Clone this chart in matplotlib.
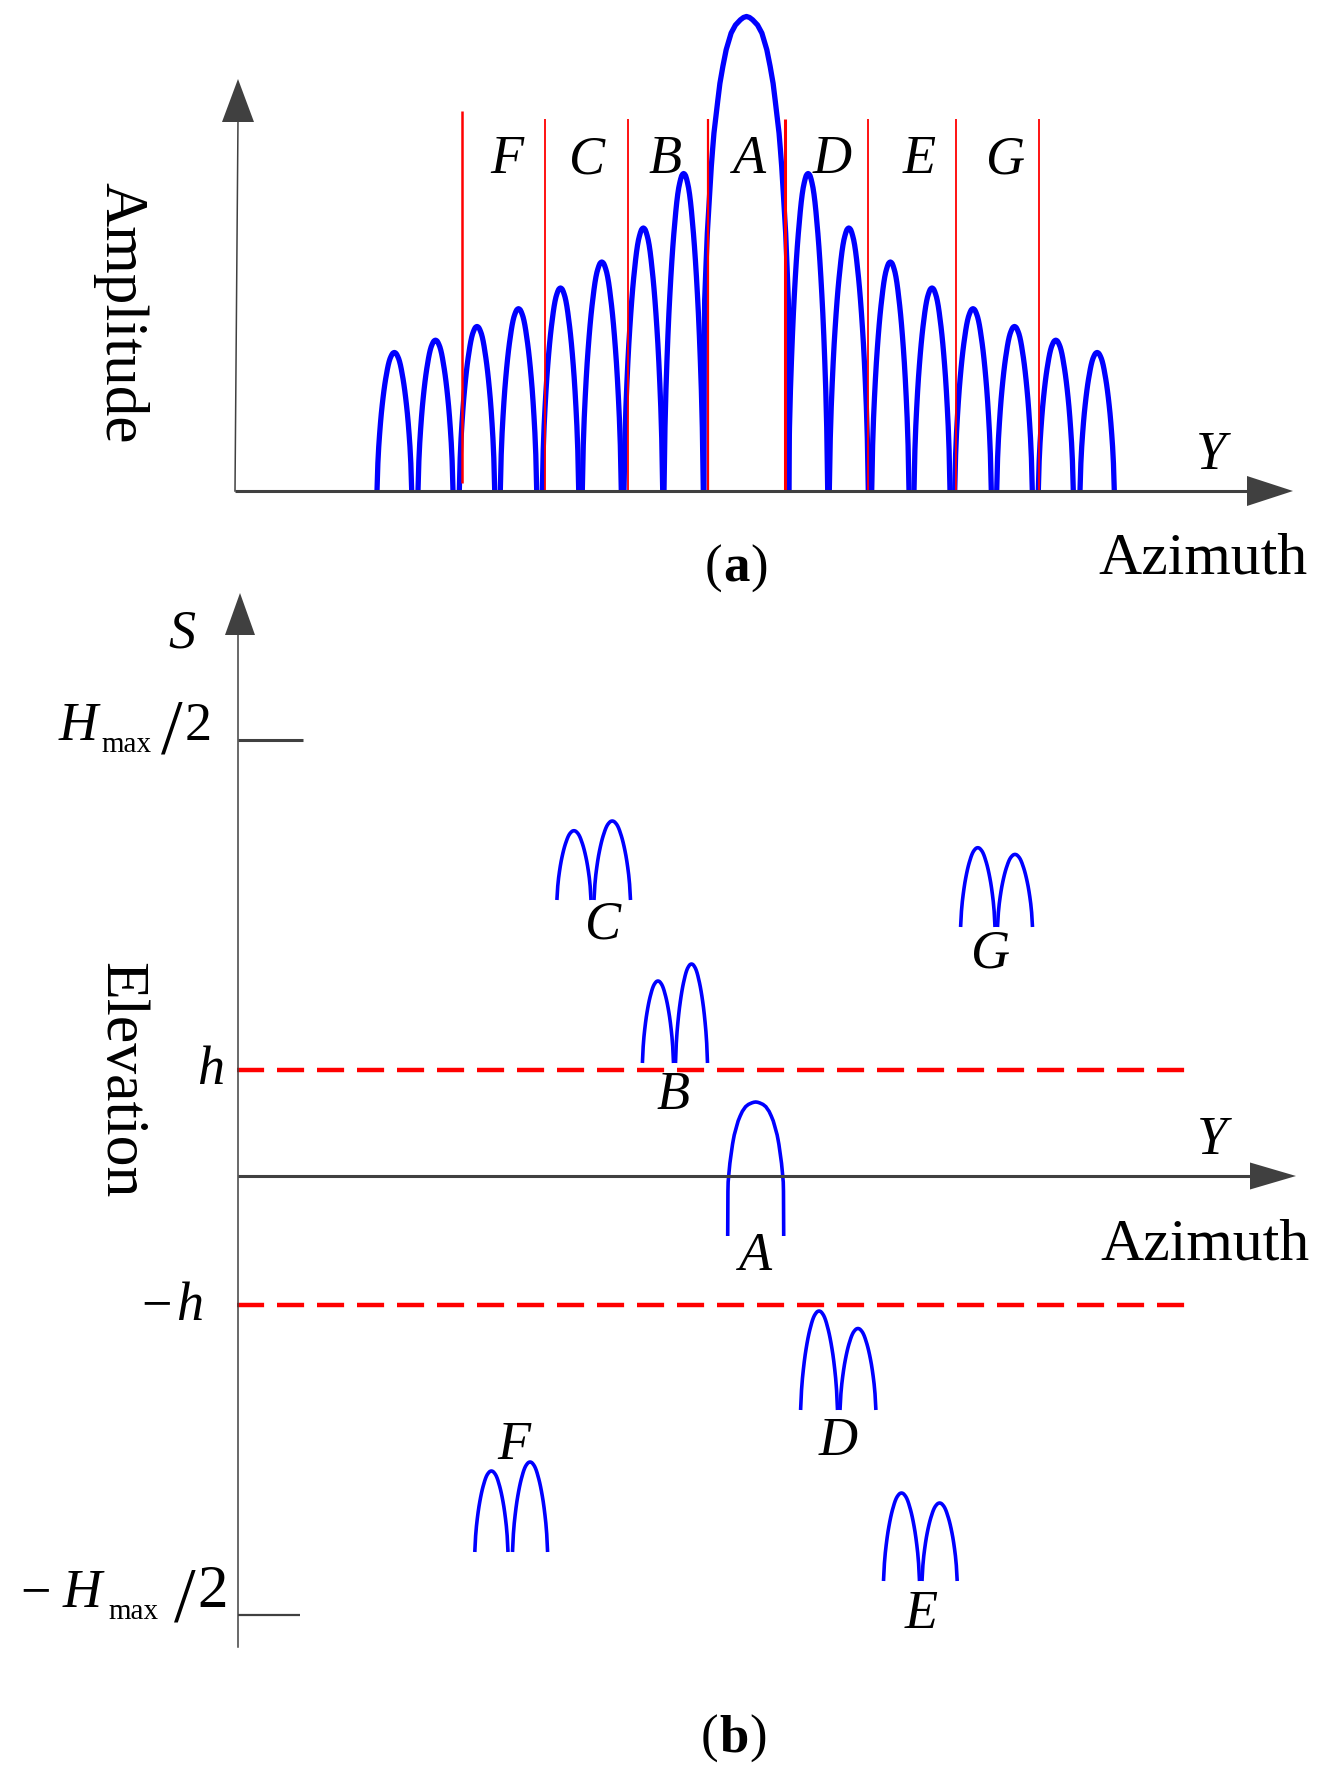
import matplotlib
matplotlib.use("Agg")
import matplotlib.pyplot as plt
import numpy as np

W, H = 1327, 1784
SERIF = ["Liberation Serif", "DejaVu Serif"]
BLUE, RED, DARK = "#0000ff", "#ff0000", "#404040"

# Half of one side lobe, edge to peak
SIDE_T = [0, .025, .05, .075, .1, .125, .15, .175, .2, .225, .25, .275, .3, .325,
          .35, .375, .4, .425, .45, .475, .5]
SIDE_F = [0, .20, .32, .41, .49, .56, .62, .675, .725, .77, .81, .845, .88, .91,
          .935, .955, .97, .983, .993, .998, 1]
# Half of the main lobe, which is steeper at its foot
MAIN_T = [0, .004, .008, .023, .039, .062, .086, .101, .117, .14, .163, .187, .222,
          .261, .319, .37, .428, .465, .5]
MAIN_F = [0, .332, .403, .473, .543, .613, .684, .719, .754, .789, .824, .859, .895,
          .93, .965, .982, .993, .998, 1]

# Panel (a): amplitude pattern over azimuth
a_left = [377, 418, 459.3, 500.3, 542.3, 582.3, 624, 664, 704,
          788.5, 829.3, 871.7, 914, 954.7, 996.7, 1038.3, 1080]
a_right = [411.7, 453, 494.7, 536.7, 578.7, 621.3, 662.7, 703.3, 789,
           827.7, 868.3, 909, 950, 991.3, 1032.3, 1073.3, 1114.3]
a_peak = [138.5, 150.8, 164.5, 182.3, 203, 229, 263, 317.5, 474.5,
          317.5, 263, 229, 203, 182.3, 164.5, 150.8, 138.5]
sector_edges = [462.3, 545, 627.7, 708, 785.3, 867.7, 955.7, 1039]
sector_tops = [380, 372, 372, 372, 372, 372, 372, 372]
sector_foot = [8, 0, 0, 0, 0, 0, 0, 0]
sector_lw = [1.8, 1.3, 1.3, 1.6, 2.2, 1.3, 1.3, 1.3]

# Panel (b): targets in azimuth / elevation
# name: (lobe edges in azimuth as left,right pairs, base elevation, peak elevations)
targets_b = {
    "A": ([(727.7, 783.7)], -60, [74]),
    "B": ([(642.4, 673.5), (675.5, 707.5)], 113, [195, 212]),
    "C": ([(556.9, 591), (594, 630.5)], 276, [345.3, 355]),
    "D": ([(800.6, 837.5), (840, 875.9)], -234, [-135, -152.5]),
    "E": ([(883.5, 919.5), (922, 957.2)], -405, [-317, -327]),
    "F": ([(474.8, 508), (512.5, 547.6)], -376, [-295, -286]),
    "G": ([(960.6, 995), (997.5, 1032.5)], 249, [328.3, 321.6]),
}
h_level = [106.5, -129]
hmax_level = [436, -439]

fig = plt.figure(figsize=(W / 100, H / 100), dpi=100, facecolor="white")
A_SPLIT = 520
ax_a = fig.add_axes([0, 1 - A_SPLIT / H, 1, A_SPLIT / H])
ax_b = fig.add_axes([0, 0, 1, 1 - A_SPLIT / H])
ax_a.set_xlim(0, W); ax_a.set_ylim(491 - A_SPLIT, 491)
ax_b.set_xlim(0, W); ax_b.set_ylim(1176 - H, 1176 - A_SPLIT)
for ax in (ax_a, ax_b):
    ax.axis("off")
    ax.patch.set_alpha(0)


def lobe(ax, left, right, base, peak, lw, main=False):
    t = np.array(MAIN_T if main else SIDE_T)
    f = np.array(MAIN_F if main else SIDE_F)
    tt = np.concatenate([t, 1 - t[-2::-1]])
    ff = np.concatenate([f, f[-2::-1]])
    ax.plot(left + tt * (right - left), base + ff * (peak - base),
            color=BLUE, lw=lw, solid_joinstyle="round", solid_capstyle="butt", zorder=3)


# ---------- panel a ----------
for e, t, b, w in zip(sector_edges, sector_tops, sector_foot, sector_lw):
    ax_a.plot([e, e], [b, t], color=RED, lw=w, zorder=4, solid_capstyle="butt")
for i, (l, r, p) in enumerate(zip(a_left, a_right, a_peak)):
    lobe(ax_a, l, r, 0, p, 3.8, main=(i == 8))
ax_a.plot([235, 1250], [0, 0], color=DARK, lw=2.2, zorder=5, solid_capstyle="butt")
ax_a.plot([235, 238], [0, 372], color=DARK, lw=1.1, zorder=5)
ax_a.fill([1247, 1293, 1247], [15, 0, -15], color=DARK, lw=0, zorder=5)
ax_a.fill([222, 238, 254], [369, 412, 369], color=DARK, lw=0, zorder=5)

# ---------- panel b ----------
for name, (edges, base, peaks) in targets_b.items():
    for (l, r), p in zip(edges, peaks):
        lobe(ax_b, l, r, base, p, 2.6, main=(name == "A"))
for lv in h_level:
    ax_b.plot([237, 1185], [lv, lv], color=RED, lw=3.2, dashes=(6.1, 2.9),
              dash_capstyle="butt", zorder=2)
ax_b.plot([238, 238], [-471, 545], color=DARK, lw=1.1, zorder=4)
ax_b.plot([238, 1252], [0, 0], color=DARK, lw=2.2, zorder=4, solid_capstyle="butt")
ax_b.plot([238, 303], [hmax_level[0]] * 2, color=DARK, lw=2.2, solid_capstyle="butt")
ax_b.plot([238, 300], [hmax_level[1]] * 2, color=DARK, lw=1.6, solid_capstyle="butt")
ax_b.fill([1250, 1296, 1250], [13.5, 0, -13.5], color=DARK, lw=0, zorder=5)
ax_b.fill([225, 240, 255], [541, 583, 541], color=DARK, lw=0, zorder=5)


# ---------- text ----------
def txt(px, py, s, size=39, style="italic", ha="center", va="baseline", **kw):
    fig.text(px / W, 1 - py / H, s, fontsize=size, style=style, ha=ha, va=va,
             family=SERIF, color="black", **kw)


for name, x in zip("FCBADEG", [507, 587, 665, 750, 832, 919, 1005]):
    txt(x, 173, name)
labels_b = {"C": (603, 938.6), "G": (990, 968), "B": (673, 1109), "A": (756, 1270),
            "D": (838, 1455), "F": (514, 1459), "E": (921, 1628)}
for name, (x, y) in labels_b.items():
    txt(x, y, name)

txt(1211, 469, "Y")
txt(1212, 1154, "Y")
txt(182, 648, "S")
txt(211, 1084, "h")
txt(190, 1320, "h")
txt(157, 1320, "\u2212", style="normal")

txt(1203, 573, "Azimuth", size=43, style="normal")
txt(1205, 1260, "Azimuth", size=43, style="normal")

fig.text(120 / W, 1 - 313 / H, "Amplitude", fontsize=44, rotation=-90, ha="center", va="center",
         family=SERIF)
fig.text(120 / W, 1 - 1080 / H, "Elevation", fontsize=44.5, rotation=-90, ha="center", va="center",
         family=SERIF)

# H_max / 2 tick labels
txt(59, 740, "H", ha="left")
txt(101, 752, "max", size=21, style="normal", ha="left")
txt(172, 752, "/", size=56, style="normal")
txt(198, 740, "2", style="normal")

txt(36, 1607, "\u2212", style="normal")
txt(63, 1607, "H", ha="left")
txt(108, 1619, "max", size=21, style="normal", ha="left")
txt(185, 1620, "/", size=56, style="normal")
txt(213, 1607, "2", style="normal", size=44)

# Panel captions: plain brackets around a bold letter
for cx, y, letter, off in [(736, 582, "a", 23), (734, 1752, "b", 24.5)]:
    txt(cx - off, y, "(", size=38, style="normal")
    fig.text(cx / W, 1 - y / H, letter, fontsize=38, ha="center", va="baseline",
             family=SERIF, weight="bold")
    txt(cx + off, y, ")", size=38, style="normal")
fig.savefig("out.png", dpi=100, facecolor="white")
